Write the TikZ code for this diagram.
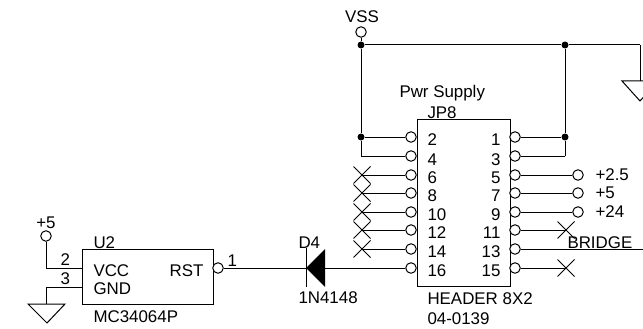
\documentclass[tikz,border=0pt]{standalone}
\usepackage{fontspec}
\setmainfont{Liberation Sans}
\usetikzlibrary{shapes.misc}
\tikzset{
  pin/.style={circle,draw,fill=white,inner sep=0pt,minimum size=10.5pt},
  dot/.style={circle,fill,inner sep=0pt,minimum size=7pt},
  nc/.style={cross out,draw,inner sep=0pt,minimum size=16pt},
  lbl/.style={anchor=base west,inner sep=0pt},
  lblr/.style={anchor=base east,inner sep=0pt},
  lblc/.style={anchor=base,inner sep=0pt}
}
\begin{document}
\begin{tikzpicture}[x=1pt,y=-1pt,line width=1pt,font=\fontsize{16.9}{18}\selectfont]
\useasboundingbox (0,0) rectangle (643,329);
% header
\draw (417,119) rectangle (510,286);
\draw (361,32) node[pin](vss){}  (361,45) node[dot](j1){}  (565,45) node[dot](j2){}
      (361,137) node[dot](j3){}  (565,137) node[dot](j4){};
\draw (411,137) node[pin](p2){}  (411,156) node[pin](p4){}  (411,175) node[pin](p6){}
      (411,193) node[pin](p8){}  (411,212) node[pin](p10){} (411,230) node[pin](p12){}
      (411,249) node[pin](p14){} (411,268) node[pin](p16){};
\draw (515,137) node[pin](p1){}  (515,156) node[pin](p3){}  (515,175) node[pin](p5){}
      (515,193) node[pin](p7){}  (515,212) node[pin](p9){}  (515,230) node[pin](p11){}
      (515,249) node[pin](p13){} (515,268) node[pin](p15){};
\draw (578,175) node[pin](t5){}  (578,193) node[pin](t7){}  (578,212) node[pin](t9){};
\draw (362,175) node[nc](x6){}   (362,193) node[nc](x8){}   (362,212) node[nc](x10){}
      (362,230) node[nc](x12){}  (362,249) node[nc](x14){}
      (566,230) node[nc](x11){}  (566,268) node[nc](x15){};
\coordinate (c4) at (361,156);
\coordinate (c3) at (565,156);
\coordinate (c13) at (643,249);
\coordinate (c0) at (640,45);
\coordinate (gr) at (640,81);
\path[-]
    (vss) edge (j1)
    (j1) edge (j2)
    (j1) edge (j3)
    (j2) edge (j4)
    (j3) edge (p2)
    (j4) edge (p1)
    (j3) edge (c4)
    (c4) edge (p4)
    (j4) edge (c3)
    (c3) edge (p3)
    (j2) edge (c0)
    (c0) edge (gr)
    (x6.center) edge (p6)
    (x8.center) edge (p8)
    (x10.center) edge (p10)
    (x12.center) edge (p12)
    (x14.center) edge (p14)
    (p5) edge (t5)
    (p7) edge (t7)
    (p9) edge (t9)
    (p11) edge (x11.center)
    (p13) edge (c13)
    (p15) edge (x15.center);
\draw (622,81) -- (658,81) -- (640,101) -- cycle;
% pin numbers
\node[lbl] (n2) at (427,146) {2};
\node[lbl] (n4) at (427,165) {4};
\node[lbl] (n6) at (427,183) {6};
\node[lbl] (n8) at (427,201) {8};
\node[lbl] (n10) at (427,220) {10};
\node[lbl] (n12) at (427,238) {12};
\node[lbl] (n14) at (427,257) {14};
\node[lbl] (n16) at (427,276) {16};
\node[lblr] (n1) at (501,146) {1};
\node[lblr] (n3) at (501,165) {3};
\node[lblr] (n5) at (501,183) {5};
\node[lblr] (n7) at (501,201) {7};
\node[lblr] (n9) at (501,220) {9};
\node[lblr] (n11) at (501,238) {11};
\node[lblr] (n13) at (501,257) {13};
\node[lblr] (n15) at (501,276) {15};
\node[lblc] (lvss) at (362,23) {VSS};
\node[lbl] (lpwr) at (399,98) {Pwr Supply};
\node[lbl] (ljp) at (427,118) {JP8};
\node[lbl] (lhdr) at (427,304) {HEADER 8X2};
\node[lbl] (lpn) at (427,324) {04-0139};
\node[lbl] (l25) at (595,180) {+2.5};
\node[lbl] (l5) at (595,198) {+5};
\node[lbl] (l24) at (595,217) {+24};
\node[lbl] (lbr) at (567,248) {BRIDGE};
% reset chip
\draw (82,249) rectangle (213,304);
\draw (46,236) node[pin](p5v){}  (218,268) node[pin](rst){};
\coordinate (a2) at (82,268);
\coordinate (a3) at (82,287);
\coordinate (b2) at (46,268);
\coordinate (b3) at (46,287);
\coordinate (g2) at (46,304);
\coordinate (k) at (306,268);
\path[-]
    (p5v) edge (b2)
    (b2) edge (a2)
    (a3) edge (b3)
    (b3) edge (g2)
    (rst) edge (k)
    (k) edge (p16);
\draw (28,304) -- (65,304) -- (47,323) -- cycle;
\draw (306,248) -- (306,287);
\fill (306,268) -- (325,249) -- (325,287) -- cycle;
\node[lbl] (lu) at (93,248) {U2};
\node[lbl] (lvcc) at (93,276) {VCC};
\node[lbl] (lgnd) at (93,294) {GND};
\node[lblr] (lrst) at (204,276) {RST};
\node[lbl] (lmc) at (93,322) {MC34064P};
\node[lbl] (m2) at (60,265) {2};
\node[lbl] (m3) at (60,284) {3};
\node[lbl] (m1) at (227,266) {1};
\node[lbl] (ld) at (298,248) {D4};
\node[lbl] (ldn) at (298,303) {1N4148};
\node[lblc] (l5v) at (46,228) {+5};
\end{tikzpicture}
\end{document}
